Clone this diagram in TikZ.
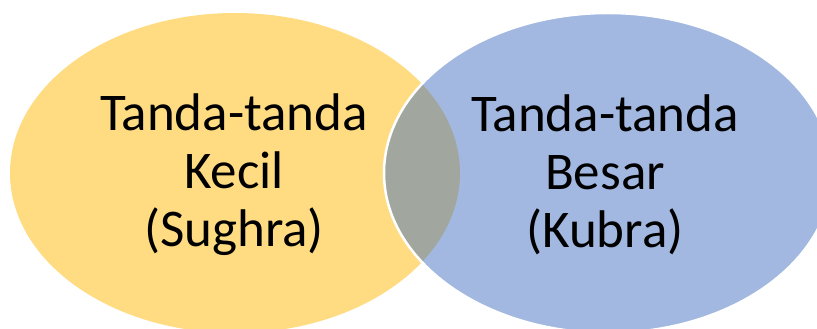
\documentclass[tikz,border=0pt]{standalone}
\usepackage{fontspec}
\setmainfont{Carlito}
\definecolor{vyellow}{RGB}{255,220,130}
\definecolor{vblue}{RGB}{162,184,224}
\definecolor{vgray}{RGB}{161,167,159}
\begin{document}
\begin{tikzpicture}[x=1pt,y=1pt,
  vlabel/.style={align=center,font=\fontsize{53}{58}\selectfont,inner sep=0pt}]
\useasboundingbox (0,0) rectangle (817,329);
\clip (0,0) rectangle (817,329);
\def\leftellipse{(235,156) ellipse [x radius=225, y radius=160]}
\def\rightellipse{(608,156) ellipse [x radius=224, y radius=160]}
\fill[vyellow] \leftellipse;
\fill[vblue] \rightellipse;
\begin{scope}
  \clip \rightellipse;
  \fill[vgray] \leftellipse;
\end{scope}
\draw[white,line width=2.5pt] \rightellipse;
\node[vlabel] (left) at (234,154) {Tanda-tanda\\Kecil\\(Sughra)};
\node[vlabel] (right) at (605,154) {Tanda-tanda\\Besar\\(Kubra)};
\end{tikzpicture}
\end{document}
